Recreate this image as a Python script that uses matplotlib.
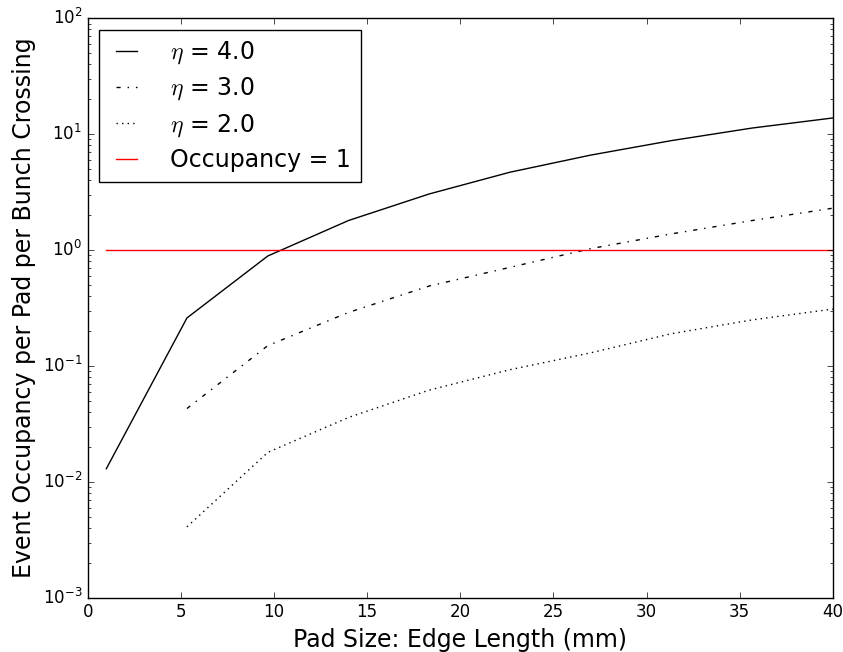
import matplotlib
matplotlib.use('Agg')
import matplotlib.pyplot as plt

plt.style.use('classic')

# pad edge length (mm)
pad_size = [1.0, 5.33, 9.67, 14.0, 18.33, 22.67, 27.0, 31.33, 35.67, 40.0]

# occupancy per pad per bunch crossing
occ_eta4 = [0.013, 0.26, 0.89, 1.8, 3.05, 4.7, 6.6, 8.8, 11.3, 13.8]
occ_eta3 = [0.043, 0.15, 0.29, 0.49, 0.71, 1.03, 1.38, 1.8, 2.3]
occ_eta2 = [0.0041, 0.018, 0.036, 0.062, 0.093, 0.13, 0.19, 0.25, 0.31]

occ_limit = 1.0

fig = plt.figure(figsize=(8.43, 6.52), dpi=100, facecolor='white')
ax = fig.add_axes([0.104, 0.083, 0.884, 0.889])

ax.plot(pad_size, occ_eta4, color='black', linestyle='-', linewidth=1.0, label=r'$\eta$ = 4.0')
ax.plot(pad_size[1:], occ_eta3, color='black', linestyle='-.', linewidth=1.0, label=r'$\eta$ = 3.0')
ax.plot(pad_size[1:], occ_eta2, color='black', linestyle=':', linewidth=1.0, label=r'$\eta$ = 2.0')
ax.plot([pad_size[0], pad_size[-1]], [occ_limit, occ_limit], color='red', linewidth=1.0,
        label='Occupancy = 1')

ax.set_yscale('log')
ax.set_xlim(0, 40)
ax.set_ylim(1e-3, 1e2)

ax.set_xlabel('Pad Size: Edge Length (mm)', fontsize=17)
ax.set_ylabel('Event Occupancy per Pad per Bunch Crossing', fontsize=17)
ax.tick_params(labelsize=12)

ax.legend(loc='upper left', fontsize=17, frameon=True, fancybox=False,
          handlelength=1.5, handletextpad=1.1, labelspacing=0.4)

fig.savefig('out.png', dpi=100, facecolor='white')
